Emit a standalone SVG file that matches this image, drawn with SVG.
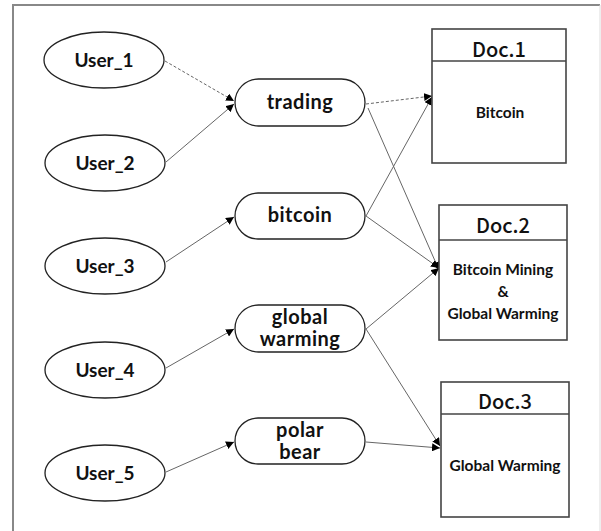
<svg xmlns="http://www.w3.org/2000/svg" width="601" height="531" viewBox="0 0 601 531">
<defs>
<marker id="ah" viewBox="0 0 10 10" refX="10" refY="5" markerWidth="8" markerHeight="8" markerUnits="userSpaceOnUse" orient="auto">
<path d="M0,0 L10,5 L0,10 z" fill="#000"/>
</marker>
<style>
.user{fill:#fff;stroke:#222;stroke-width:1.3}
.tag{fill:#fff;stroke:#222;stroke-width:1.3}
.doc{fill:#fff;stroke:#444;stroke-width:1.6}
.t{font-family:Lato,"Noto Sans",sans-serif;font-weight:bold;fill:#111;text-anchor:middle}
.ut{font-size:19px}
.gt{font-size:20px;letter-spacing:0.5px}
.ht{font-family:"Noto Sans CJK KR","Noto Sans",sans-serif;font-weight:500;font-size:20px;fill:#111;text-anchor:middle}
.bt{font-size:15.5px}
.c{stroke:#666;stroke-width:1;fill:none;marker-end:url(#ah)}
.d{stroke-dasharray:3,2}
</style>
</defs>
<rect width="601" height="531" fill="#fff"/>
<path d="M13,531 V5 H600" fill="none" stroke="#888" stroke-width="2"/>
<line x1="600" y1="5" x2="600" y2="531" stroke="#ddd" stroke-width="1"/>

<g id="connectors">
<line class="c d" x1="165" y1="61" x2="234" y2="101"/>
<line class="c" x1="166" y1="162" x2="234" y2="104"/>
<line class="c" x1="166" y1="262" x2="234" y2="217"/>
<line class="c" x1="166" y1="368" x2="234" y2="329"/>
<line class="c" x1="166" y1="472" x2="234" y2="442"/>
<line class="c d" x1="366" y1="104" x2="432" y2="96"/>
<line class="c" x1="368" y1="108" x2="439" y2="270"/>
<line class="c" x1="366" y1="216" x2="432" y2="97"/>
<line class="c" x1="366" y1="216" x2="439" y2="268"/>
<line class="c" x1="366" y1="329" x2="439" y2="268"/>
<line class="c" x1="366" y1="329" x2="440" y2="446"/>
<line class="c" x1="366" y1="442" x2="440" y2="448"/>
</g>

<g id="user1"><ellipse class="user" cx="104" cy="60" rx="60" ry="28"/><text class="t ut" x="104" y="67">User_1</text></g>
<g id="user2"><ellipse class="user" cx="105" cy="163" rx="60" ry="28"/><text class="t ut" x="105" y="170">User_2</text></g>
<g id="user3"><ellipse class="user" cx="105" cy="266" rx="60" ry="28"/><text class="t ut" x="105" y="273">User_3</text></g>
<g id="user4"><ellipse class="user" cx="105" cy="370" rx="60" ry="28"/><text class="t ut" x="105" y="377">User_4</text></g>
<g id="user5"><ellipse class="user" cx="105" cy="473" rx="60" ry="28"/><text class="t ut" x="105" y="480">User_5</text></g>

<g id="trading"><rect class="tag" x="235" y="79" width="130" height="47" rx="23.5"/><text class="t gt" x="300" y="109">trading</text></g>
<g id="bitcoin"><rect class="tag" x="235" y="193" width="130" height="46" rx="23"/><text class="t gt" x="300" y="222">bitcoin</text></g>
<g id="global-warming"><rect class="tag" x="235" y="305" width="130" height="47" rx="23.5"/><text class="t gt" x="300" y="324">global</text><text class="t gt" x="300" y="346">warming</text></g>
<g id="polar-bear"><rect class="tag" x="235" y="418" width="130" height="46" rx="23"/><text class="t gt" x="300" y="437">polar</text><text class="t gt" x="300" y="459">bear</text></g>

<g id="doc1"><rect class="doc" x="432" y="29" width="134" height="134"/><line class="doc" x1="432" y1="61" x2="566" y2="61"/><text class="ht" x="499" y="57">Doc.1</text><text class="t bt" x="500" y="118">Bitcoin</text></g>
<g id="doc2"><rect class="doc" x="439" y="205" width="128" height="135"/><line class="doc" x1="439" y1="240" x2="567" y2="240"/><text class="ht" x="503" y="233">Doc.2</text><text class="t bt" x="503" y="275">Bitcoin Mining</text><text class="t bt" x="503" y="297">&amp;</text><text class="t bt" x="503" y="319">Global Warming</text></g>
<g id="doc3"><rect class="doc" x="441" y="382" width="128" height="135"/><line class="doc" x1="441" y1="414" x2="569" y2="414"/><text class="ht" x="505" y="409">Doc.3</text><text class="t bt" x="505" y="471">Global Warming</text></g>
</svg>
